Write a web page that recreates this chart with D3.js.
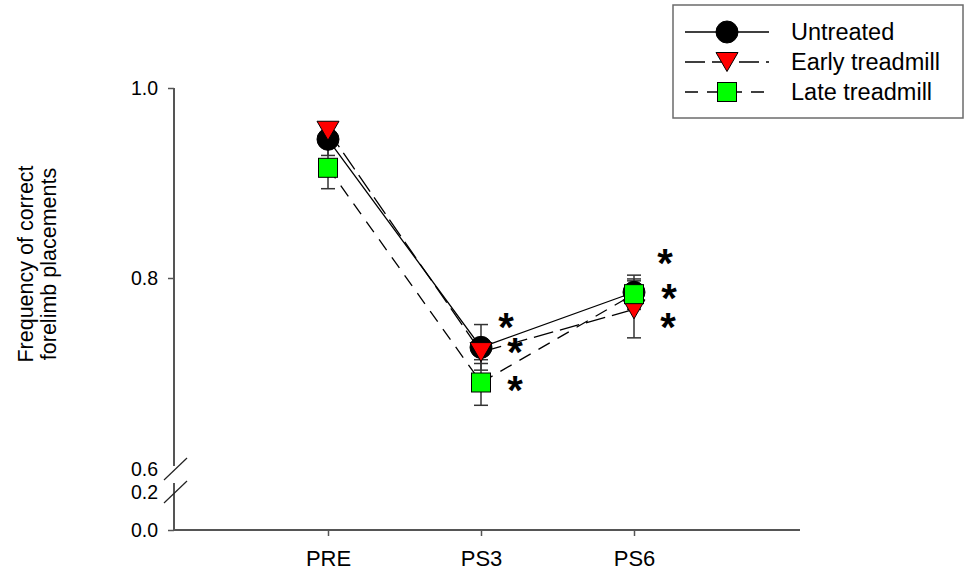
<!DOCTYPE html>
<html>
<head>
<meta charset="utf-8">
<script src="https://cdn.jsdelivr.net/npm/d3@7"></script>
<style>
  body { margin: 0; background: #fff; }
  text { font-family: "Liberation Sans", Arial, sans-serif; fill: #000; }
</style>
</head>
<body>
<svg id="chart"></svg>
<script>
// data
const categories = ["PRE", "PS3", "PS6"];
const seriesNames = ["Untreated", "Early treadmill", "Late treadmill"];
const untreated = [0.946, 0.727, 0.785];
const untreatedErr = [0.017, 0.024, 0.018];
const early = [0.955, 0.722, 0.767];
const earlyErr = [0.008, 0.012, 0.030];
const late = [0.916, 0.690, 0.783];
const lateErr = [0.022, 0.024, 0.016];
const yTicksUpper = [0.6, 0.8, 1.0];
const yTicksLower = [0.0, 0.2];
// significance marks (category, level in data units)
const starCats = ["PS3", "PS3", "PS3", "PS6", "PS6", "PS6"];
const starLevels = [0.754, 0.727, 0.687, 0.821, 0.784, 0.753];
const starOffsets = [25, 34, 34, 31, 35, 34];

const W = 965, H = 578;
const svg = d3.select("#chart").attr("width", W).attr("height", H);

const axisX = 174, axisY = 530, axisRight = 800;
const axisColor = "#555";

const x = d3.scalePoint().domain(categories).range([328, 634]);
const yUp = d3.scaleLinear().domain([0.6, 1.0]).range([468, 88]);
const yLow = d3.scaleLinear().domain([0, 0.25]).range([530, 482.5]);
const y = v => v >= 0.5 ? yUp(v) : yLow(v);

// ---- axes
const gUp = svg.append("g").attr("transform", `translate(${axisX},0)`)
  .call(d3.axisLeft(yUp).tickValues(yTicksUpper).tickSize(6).tickSizeOuter(0)
    .tickPadding(10).tickFormat(d3.format(".1f")));
const gLow = svg.append("g").attr("transform", `translate(${axisX},0)`)
  .call(d3.axisLeft(yLow).tickValues(yTicksLower).tickSize(6).tickSizeOuter(0)
    .tickPadding(10).tickFormat(d3.format(".1f")));

[gUp, gLow].forEach(g => {
  g.select(".domain").remove();
  g.selectAll(".tick line").attr("stroke", axisColor).attr("stroke-width", 1.5)
    .filter(d => d === 0.6 || d === 0.2).remove();
  g.selectAll(".tick text").attr("font-size", 19.5)
    .attr("font-family", "Liberation Sans, Arial, sans-serif").attr("fill", "#000");
});
gUp.selectAll(".tick text").filter(d => d === 0.6).attr("dy", "0.32em").attr("y", 1);

// axis lines with break
svg.append("line").attr("x1", axisX).attr("x2", axisX).attr("y1", yUp(1.0)).attr("y2", 466)
  .attr("stroke", axisColor).attr("stroke-width", 2);
svg.append("line").attr("x1", axisX).attr("x2", axisX).attr("y1", 483).attr("y2", axisY)
  .attr("stroke", axisColor).attr("stroke-width", 2);
[[164, 480, 187, 458], [164, 503, 187, 481]].forEach(s => {
  svg.append("line").attr("x1", s[0]).attr("y1", s[1]).attr("x2", s[2]).attr("y2", s[3])
    .attr("stroke", "#222").attr("stroke-width", 1.2);
});

const gx = svg.append("g").attr("transform", `translate(0,${axisY})`)
  .call(d3.axisBottom(x).tickSize(6).tickPadding(14).tickSizeOuter(0));
gx.select(".domain").remove();
gx.selectAll(".tick line").attr("stroke", axisColor).attr("stroke-width", 1.5);
gx.selectAll(".tick text").attr("font-size", 22)
  .attr("font-family", "Liberation Sans, Arial, sans-serif").attr("fill", "#000");
svg.append("line").attr("x1", axisX - 1).attr("x2", axisRight).attr("y1", axisY).attr("y2", axisY)
  .attr("stroke", axisColor).attr("stroke-width", 2);

// y title
const title = svg.append("text").attr("transform", "translate(33,264) rotate(-90)")
  .attr("text-anchor", "middle").attr("font-size", 21.5);
title.append("tspan").attr("x", 0).attr("y", 0).text("Frequency of correct");
title.append("tspan").attr("x", 0).attr("y", 23).text("forelimb placements");

// ---- series
const series = [
  { name: seriesNames[0], values: untreated, err: untreatedErr, dash: null, shape: "circle", fill: "#000" },
  { name: seriesNames[1], values: early, err: earlyErr, dash: "20,7", shape: "triangle", fill: "#ff0000" },
  { name: seriesNames[2], values: late, err: lateErr, dash: "13,9", shape: "square", fill: "#00ff00" }
];

const line = d3.line().x((d, i) => x(categories[i])).y(d => y(d));

series.forEach(s => {
  svg.append("path").datum(s.values).attr("d", line)
    .attr("fill", "none").attr("stroke", "#000").attr("stroke-width", 1.3)
    .attr("stroke-dasharray", s.dash);
});

series.forEach(s => {
  const g = svg.append("g");
  s.values.forEach((v, i) => {
    const cx = x(categories[i]);
    const top = y(v + s.err[i]), bot = y(v - s.err[i]);
    g.append("line").attr("x1", cx).attr("x2", cx).attr("y1", top).attr("y2", bot)
      .attr("stroke", "#333").attr("stroke-width", 1.5);
    [top, bot].forEach(yy => g.append("line").attr("x1", cx - 7).attr("x2", cx + 7)
      .attr("y1", yy).attr("y2", yy).attr("stroke", "#333").attr("stroke-width", 1.5));
  });
});

function marker(g, shape, cx, cy, fill) {
  if (shape === "circle") {
    g.append("circle").attr("cx", cx).attr("cy", cy).attr("r", 11)
      .attr("fill", fill).attr("stroke", "#000").attr("stroke-width", 1);
  } else if (shape === "triangle") {
    const w = 22, h = 19;
    g.append("path").attr("d", `M${cx - w / 2},${cy - h / 2}L${cx + w / 2},${cy - h / 2}L${cx},${cy + h / 2}Z`)
      .attr("fill", fill).attr("stroke", "#000").attr("stroke-width", 1);
  } else {
    const a = 19;
    g.append("rect").attr("x", cx - a / 2).attr("y", cy - a / 2).attr("width", a).attr("height", a)
      .attr("fill", fill).attr("stroke", "#000").attr("stroke-width", 1);
  }
}

series.forEach(s => {
  const g = svg.append("g");
  s.values.forEach((v, i) => marker(g, s.shape, x(categories[i]), y(v), s.fill));
});

// asterisks
const starSize = 40;
starCats.forEach((c, i) => {
  svg.append("text").attr("x", x(c) + starOffsets[i]).attr("y", y(starLevels[i]) + starSize * 0.47)
    .attr("text-anchor", "middle").attr("font-size", starSize).attr("font-weight", "bold")
    .text("*");
});

// ---- legend
const lg = svg.append("g");
lg.append("rect").attr("x", 673).attr("y", 5).attr("width", 290).attr("height", 113)
  .attr("fill", "#fff").attr("stroke", "#6b6b6b").attr("stroke-width", 1.5);
series.forEach((s, i) => {
  const ly = 32 + i * 30;
  lg.append("line").attr("x1", 685).attr("x2", 769).attr("y1", ly).attr("y2", ly)
    .attr("stroke", "#000").attr("stroke-width", 1.3).attr("stroke-dasharray", s.dash);
  marker(lg, s.shape, 727, ly, s.fill);
  lg.append("text").attr("x", 791).attr("y", ly).attr("dy", "0.35em")
    .attr("font-size", 23.5).text(s.name);
});
</script>
</body>
</html>
